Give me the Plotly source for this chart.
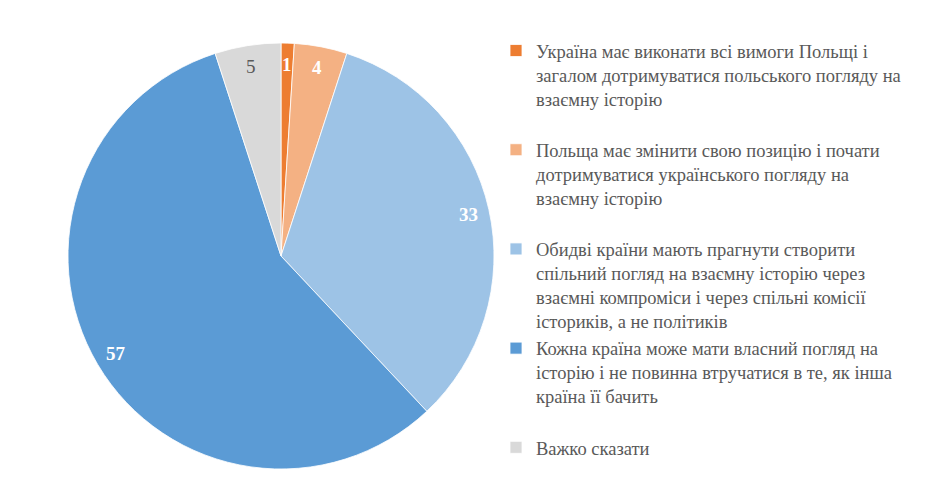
import numpy as np
import plotly.graph_objects as go

labels = [
    "Україна має виконати всі вимоги Польщі і<br>загалом дотримуватися польського погляду на<br>взаємну історію<br> ",
    "Польща має змінити свою позицію і почати<br>дотримуватися українського погляду на<br>взаємну історію<br> ",
    "Обидві країни мають прагнути створити<br>спільний погляд на взаємну історію через<br>взаємні компроміси і через спільні комісії<br>істориків, а не політиків",
    "Кожна країна може мати власний погляд на<br>історію і не повинна втручатися в те, як інша<br>країна її бачить<br> ",
    "Важко сказати",
]
values = [1, 4, 33, 57, 5]
colors = ["#ED7D31", "#F4B183", "#9DC3E6", "#5B9BD5", "#D9D9D9"]
text_colors = ["white", "white", "white", "white", "#595959"]
text_bold = [True, True, True, True, False]

FONT = "Liberation Serif, Times New Roman, serif"
W, H = 952, 490
# pie placement in layout pixels
PX0, PX1, PY0, PY1 = 60, 486, 35, 461
fig = go.Figure(go.Pie(
    labels=labels,
    values=values,
    sort=False,
    direction="clockwise",
    rotation=0,
    marker=dict(colors=colors, line=dict(color="white", width=0.8)),
    textinfo="none",
    domain=dict(x=[PX0 / W, PX1 / W], y=[(H - PY1) / H, (H - PY0) / H]),
    hoverinfo="label+value",
))

# data labels at 0.9 of the radius, at each slice's mid-angle (clockwise from 12 o'clock)
cx, cy = (PX0 + PX1) / 2, (PY0 + PY1) / 2
R = (PX1 - PX0) / 2
vals = np.array(values, dtype=float)
mids = (np.cumsum(vals) - vals / 2) / vals.sum() * 2 * np.pi
annotations = []
for v, th, col, b in zip(values, mids, text_colors, text_bold):
    px = cx + 0.9 * R * np.sin(th)
    py = cy - 0.9 * R * np.cos(th)
    annotations.append(dict(
        x=px / W, y=1 - py / H, xref="paper", yref="paper",
        text=f"<b>{v}</b>" if b else str(v), showarrow=False,
        xanchor="center", yanchor="middle",
        font=dict(family=FONT, size=19, color=col),
    ))

fig.update_layout(
    width=W, height=H,
    margin=dict(l=0, r=0, t=0, b=0),
    paper_bgcolor="white",
    plot_bgcolor="white",
    font=dict(family=FONT),
    showlegend=True,
    annotations=annotations,
    legend=dict(
        x=488 / W, xanchor="left",
        y=(H - 24) / H, yanchor="top",
        font=dict(family=FONT, size=18.5, color="#595959"),
        valign="top",
    ),
)
fig.write_html("out.html")
